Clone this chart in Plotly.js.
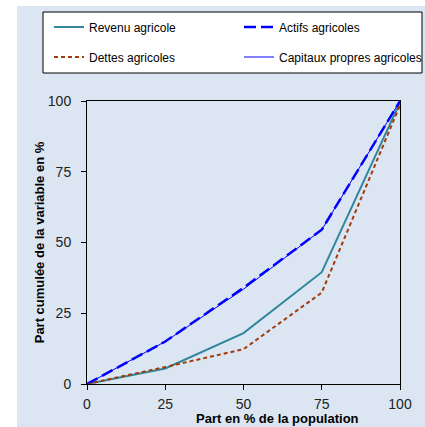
<!DOCTYPE html>
<html>
<head>
<meta charset="utf-8">
<script src="https://cdn.plot.ly/plotly-3.0.1.min.js"></script>
<style>
html,body{margin:0;padding:0;background:#ffffff;}
#chart{width:425px;height:427px;}
</style>
</head>
<body>
<div id="chart"></div>
<script>
// Data
const population = [0, 25, 50, 75, 100];
const revenuAgricole = [0, 5.5, 18, 39.5, 99.5];
const actifsAgricoles = [0, 15, 34, 54.5, 100];
const dettesAgricoles = [0, 6, 12.3, 32.3, 98.5];
const capitauxPropres = [0, 15, 33.5, 54.5, 100];
const seriesNames = ["Revenu agricole", "Actifs agricoles", "Dettes agricoles", "Capitaux propres agricoles"];
const tickValues = [0, 25, 50, 75, 100];
const xTitle = "Part en % de la population";
const yTitle = "Part cumulée de la variable en %";

// Geometry helpers (pixel -> paper) based on margins
const W = 425, H = 427;
const M = {l: 87, r: 25, t: 101, b: 43};
const pw = W - M.l - M.r, ph = H - M.t - M.b;
const px = p => (p - M.l) / pw;
const py = p => (H - M.b - p) / ph;

const font = "Liberation Sans, Arial, sans-serif";

const traces = [
  {x: population, y: revenuAgricole, name: seriesNames[0], mode: "lines",
   line: {color: "#31859c", width: 2}, legend: "legend"},
  {x: population, y: actifsAgricoles, name: seriesNames[1], mode: "lines",
   line: {color: "#0000ff", width: 2.5, dash: "12px,5px"}, legend: "legend2"},
  {x: population, y: dettesAgricoles, name: seriesNames[2], mode: "lines",
   line: {color: "#a03c0c", width: 2, dash: "4px,3px"}, legend: "legend3"},
  {x: population, y: capitauxPropres, name: seriesNames[3], mode: "lines",
   line: {color: "#0000ff", width: 1}, legend: "legend4"}
];

const legendCommon = {
  orientation: "h", xref: "container", yref: "container",
  xanchor: "left", yanchor: "middle",
  bgcolor: "rgba(0,0,0,0)", borderwidth: 0,
  font: {family: font, size: 12, color: "#000"},
  itemclick: false, itemdoubleclick: false
};
const col1 = 49 / W, col2 = 239 / W, row1 = 1 - 27 / H, row2 = 1 - 57 / H;

const layout = {
  width: W, height: H,
  margin: {l: M.l, r: M.r, t: M.t, b: M.b, pad: 0, autoexpand: false},
  paper_bgcolor: "#ffffff",
  plot_bgcolor: "rgba(0,0,0,0)",
  font: {family: font, color: "#222"},
  showlegend: true,
  legend: Object.assign({}, legendCommon, {x: col1, y: row1}),
  legend2: Object.assign({}, legendCommon, {x: col2, y: row1}),
  legend3: Object.assign({}, legendCommon, {x: col1, y: row2}),
  legend4: Object.assign({}, legendCommon, {x: col2, y: row2}),
  xaxis: {
    range: [0, 100], tickvals: tickValues, ticktext: tickValues.map(String),
    showgrid: false, zeroline: false, showline: true, linecolor: "#000", linewidth: 1,
    mirror: true, ticks: "outside", ticklen: 5, tickcolor: "#000", ticklabelstandoff: 2,
    tickfont: {family: font, size: 14, color: "#222"}, fixedrange: true
  },
  yaxis: {
    range: [0, 100], tickvals: tickValues, ticktext: tickValues.map(String),
    showgrid: false, zeroline: false, showline: true, linecolor: "#000", linewidth: 1,
    mirror: true, ticks: "outside", ticklen: 5, tickcolor: "#000", ticklabelstandoff: 7,
    tickfont: {family: font, size: 14, color: "#222"}, fixedrange: true,
    title: {text: yTitle, font: {family: font, size: 13, color: "#000", weight: "bold"}, standoff: 0}
  },
  shapes: [
    {type: "rect", xref: "paper", yref: "paper", layer: "below",
     x0: px(17), x1: px(425), y0: py(427), y1: py(6),
     fillcolor: "#dce6f2", line: {width: 0}},
    {type: "rect", xref: "paper", yref: "paper", layer: "below",
     x0: px(43), x1: px(422), y0: py(73), y1: py(12),
     fillcolor: "#ffffff", line: {color: "#000", width: 1}}
  ],
  annotations: [
    {text: "<b>" + xTitle + "</b>", xref: "paper", yref: "paper",
     x: px(277), y: py(418), xanchor: "center", yanchor: "middle", showarrow: false,
     font: {family: font, size: 13, color: "#000"}}
  ]
};

Plotly.newPlot("chart", traces, layout, {displayModeBar: false, staticPlot: true});
</script>
</body>
</html>
